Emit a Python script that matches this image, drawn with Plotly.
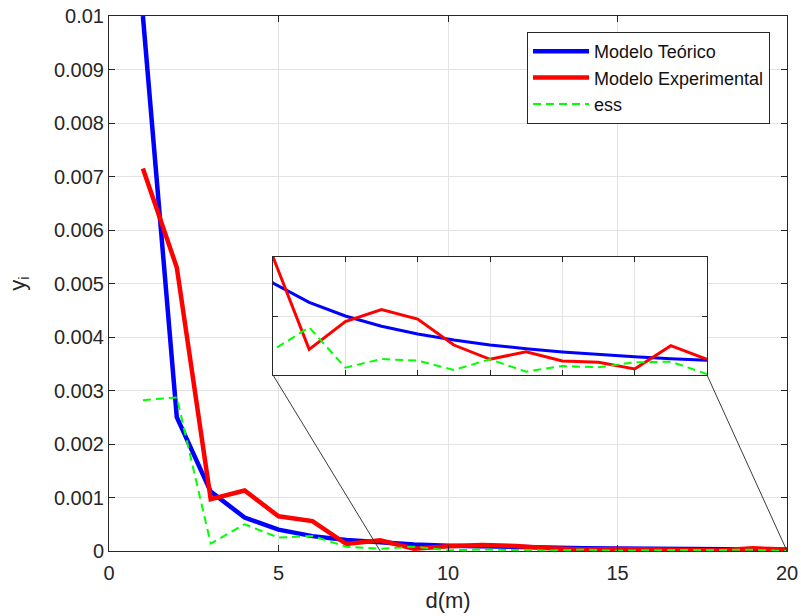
import plotly.graph_objects as go

d = list(range(1, 21))
teorico = [0.01, 0.0025, 0.001111, 0.000625, 0.0004, 0.000278, 0.000204, 0.000156,
           0.000123, 0.0001, 0.0000826, 0.0000694, 0.0000592, 0.000051, 0.0000444,
           0.0000391, 0.0000346, 0.0000309, 0.0000277, 0.000025]
experimental = [0.00715, 0.0053, 0.00097, 0.00113, 0.00065, 0.00056, 0.00013, 0.0002,
                0.0000435, 0.0000904, 0.000111, 0.0000949, 0.0000508, 0.0000266,
                0.0000395, 0.0000237, 0.0000215, 0.0000102, 0.0000497, 0.0000266]
ess = [0.00282, 0.00287, 0.00014, 0.0005, 0.00025, 0.00028, 0.00008, 0.0000424,
       0.0000808, 0.0000124, 0.0000271, 0.0000243, 0.0000085, 0.0000266, 0.0000056,
       0.0000153, 0.000013, 0.0000215, 0.0000226, 0.0000017]

names = ["Modelo Teórico", "Modelo Experimental", "ess"]
x_ticks = [0, 5, 10, 15, 20]
y_ticks = [0, 0.001, 0.002, 0.003, 0.004, 0.005, 0.006, 0.007, 0.008, 0.009, 0.01]
y_ticktext = ["0", "0.001", "0.002", "0.003", "0.004", "0.005", "0.006", "0.007",
              "0.008", "0.009", "0.01"]
inset_x_range = [8, 20]
inset_y_range = [0, 0.0002]

AX = "#262626"
GRID = "#e3e3e3"
FONT = "Liberation Sans, Arial, sans-serif"

fig = go.Figure()
fig.add_trace(go.Scatter(x=d, y=teorico, mode="lines", name=names[0],
                         line=dict(color="#0000ff", width=4.5)))
fig.add_trace(go.Scatter(x=d, y=experimental, mode="lines", name=names[1],
                         line=dict(color="#ff0000", width=4.5)))
fig.add_trace(go.Scatter(x=d, y=ess, mode="lines", name=names[2],
                         line=dict(color="#00ff00", width=2, dash="8px,5px")))

# inset
fig.add_trace(go.Scatter(x=d, y=teorico, mode="lines", showlegend=False,
                         xaxis="x2", yaxis="y2", line=dict(color="#0000ff", width=3)))
fig.add_trace(go.Scatter(x=d, y=experimental, mode="lines", showlegend=False,
                         xaxis="x2", yaxis="y2", line=dict(color="#ff0000", width=3)))
fig.add_trace(go.Scatter(x=d, y=ess, mode="lines", showlegend=False,
                         xaxis="x2", yaxis="y2",
                         line=dict(color="#00ff00", width=2, dash="8px,5px")))

L, R, T, B = 109, 14, 16, 65
W, H = 801, 616
pw, ph = W - L - R, H - T - B

ix0, ix1 = (273 - L) / pw, (707 - L) / pw
iy0, iy1 = (H - B - 375) / ph, (H - B - 257) / ph

fig.update_layout(
    width=W, height=H,
    margin=dict(l=L, r=R, t=T, b=B, autoexpand=False),
    paper_bgcolor="white", plot_bgcolor="white",
    font=dict(family=FONT, color=AX, size=20),
    xaxis=dict(range=[0, 20], tickvals=x_ticks, ticks="inside", ticklen=6,
               tickcolor=AX, showline=True, linecolor=AX, linewidth=1, mirror="ticks",
               showgrid=True, gridcolor=GRID, zeroline=False, automargin=False,
               tickfont=dict(size=20, color=AX), ticklabelstandoff=4,
               title=dict(text="d(m)", font=dict(size=22, color=AX), standoff=9),
               domain=[0, 1]),
    yaxis=dict(range=[0, 0.01], tickvals=y_ticks, ticktext=y_ticktext, ticks="inside",
               ticklen=6, tickcolor=AX, showline=True, linecolor=AX, linewidth=1,
               mirror="ticks", showgrid=True, gridcolor=GRID, zeroline=False,
               automargin=False, tickfont=dict(size=20, color=AX),
               title=dict(text="y<sub>i</sub>", font=dict(size=22, color=AX), standoff=22),
               domain=[0, 1]),
    xaxis2=dict(domain=[ix0, ix1], anchor="y2", range=inset_x_range, dtick=2,
                ticks="inside", ticklen=5, tickcolor=AX, showticklabels=False,
                showline=True, linecolor=AX, linewidth=1, mirror="ticks",
                showgrid=True, gridcolor=GRID, zeroline=False, automargin=False),
    yaxis2=dict(domain=[iy0, iy1], anchor="x2", range=inset_y_range, dtick=0.0001,
                ticks="inside", ticklen=5, tickcolor=AX, showticklabels=False,
                showline=True, linecolor=AX, linewidth=1, mirror="ticks",
                showgrid=True, gridcolor=GRID, zeroline=False, automargin=False),
    legend=dict(x=(770 - L) / pw, y=(H - B - 32) / ph, xanchor="right", yanchor="top",
                bgcolor="white", bordercolor=AX, borderwidth=1,
                font=dict(size=18, color="#111111"), itemwidth=56,
                tracegroupgap=0),
    shapes=[
        dict(type="line", xref="paper", yref="paper", x0=ix0, y0=iy0,
             x1=inset_x_range[0] / 20, y1=0, line=dict(color="#3a3a3a", width=1),
             layer="above"),
        dict(type="line", xref="paper", yref="paper", x0=ix1, y0=iy0,
             x1=inset_x_range[1] / 20, y1=0, line=dict(color="#3a3a3a", width=1),
             layer="above"),
    ],
)

fig.write_html("out.html")
